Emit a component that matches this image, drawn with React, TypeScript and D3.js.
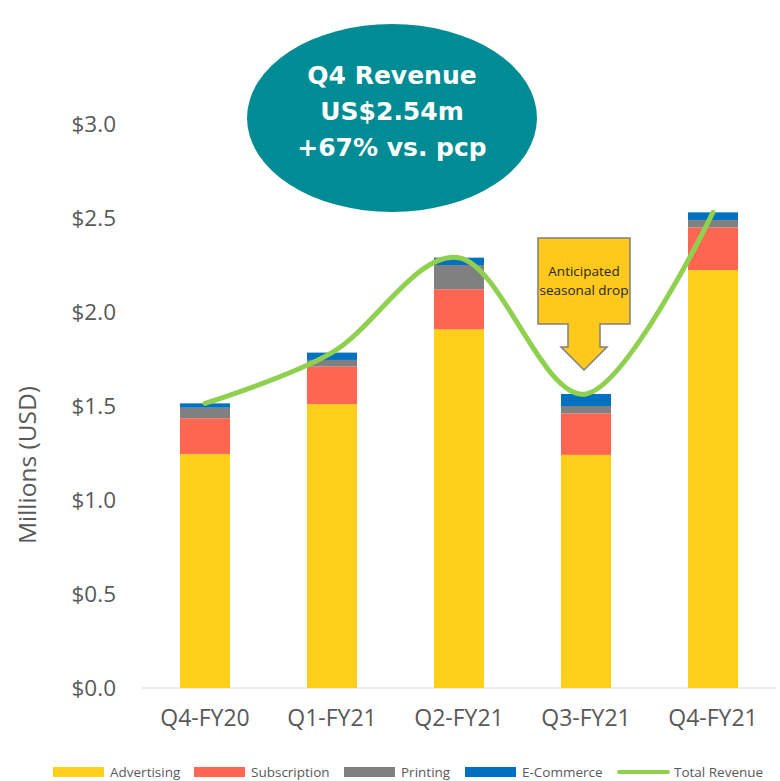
import React, { useRef, useEffect } from "react";
import * as d3 from "d3";

// quarters on the x axis
const quarters = ["Q4-FY20", "Q1-FY21", "Q2-FY21", "Q3-FY21", "Q4-FY21"];

// revenue by stream, millions USD
const advertising = [1.245, 1.51, 1.908, 1.24, 2.223];
const subscription = [0.19, 0.2, 0.213, 0.221, 0.227];
const printing = [0.056, 0.035, 0.129, 0.039, 0.039];
const ecommerce = [0.023, 0.039, 0.039, 0.064, 0.041];
const totalRevenue = [1.514, 1.784, 2.289, 1.564, 2.53];

const yTicks = [0, 0.5, 1.0, 1.5, 2.0, 2.5, 3.0];

const seriesNames = ["Advertising", "Subscription", "Printing", "E-Commerce"];
const seriesColors = ["#FFCF1A", "#FF6652", "#808080", "#0070C0"];
const lineColor = "#8FD14F";

const App = () => {
    const ref = useRef<SVGSVGElement>(null);

    useEffect(() => {
        const width = 780;
        const height = 781;
        const margin = { top: 124, right: 3.5, bottom: 93, left: 141.5 };
        const font = "'Open Sans', sans-serif";
        const textColor = "#595959";

        const svg = d3.select(ref.current)
            .attr("width", width)
            .attr("height", height);

        svg.selectAll("*").remove();

        const xScale = d3.scaleBand()
            .domain(quarters)
            .range([margin.left, width - margin.right])
            .paddingInner(0.606)
            .paddingOuter(0.303);

        const yScale = d3.scaleLinear()
            .domain([0, 3])
            .range([height - margin.bottom, margin.top]);

        // stack the four streams
        const rows = quarters.map((q, i) => ({
            quarter: q,
            Advertising: advertising[i],
            Subscription: subscription[i],
            Printing: printing[i],
            "E-Commerce": ecommerce[i],
        }));
        const stacked = d3.stack<any>().keys(seriesNames)(rows);

        // baseline
        svg.append("line")
            .attr("x1", margin.left)
            .attr("x2", width - margin.right)
            .attr("y1", yScale(0))
            .attr("y2", yScale(0))
            .attr("stroke", "#D9D9D9")
            .attr("stroke-width", 1);

        stacked.forEach((layer, k) => {
            svg.append("g")
                .selectAll("rect")
                .data(layer)
                .enter()
                .append("rect")
                .attr("x", (d: any) => xScale(d.data.quarter)!)
                .attr("y", d => yScale(d[1]))
                .attr("height", d => yScale(d[0]) - yScale(d[1]))
                .attr("width", xScale.bandwidth())
                .attr("fill", seriesColors[k]);
        });

        // y axis labels
        svg.append("g")
            .selectAll("text")
            .data(yTicks)
            .enter()
            .append("text")
            .attr("x", 116)
            .attr("y", d => yScale(d))
            .attr("dy", "0.35em")
            .attr("text-anchor", "end")
            .style("font-family", font)
            .style("font-size", "22.5px")
            .style("fill", textColor)
            .text(d => "$" + d3.format(".1f")(d));

        // x axis labels
        svg.append("g")
            .selectAll("text")
            .data(quarters)
            .enter()
            .append("text")
            .attr("x", d => xScale(d)! + xScale.bandwidth() / 2)
            .attr("y", 726)
            .attr("text-anchor", "middle")
            .style("font-family", font)
            .style("font-size", "23px")
            .style("fill", textColor)
            .text(d => d);

        // axis title
        svg.append("text")
            .attr("transform", `translate(36, 465) rotate(-90)`)
            .attr("text-anchor", "middle")
            .style("font-family", font)
            .style("font-size", "24.5px")
            .style("fill", textColor)
            .text("Millions (USD)");

        // total revenue line (smoothed like the spreadsheet one)
        const line = d3.line<number>()
            .x((d, i) => xScale(quarters[i])! + xScale.bandwidth() / 2)
            .y(d => yScale(d))
            .curve(d3.curveCardinal.tension(0));

        svg.append("path")
            .datum(totalRevenue)
            .attr("d", line)
            .attr("fill", "none")
            .attr("stroke", lineColor)
            .attr("stroke-width", 5)
            .attr("stroke-linecap", "round");

        // callout arrow over the Q3 dip
        const cx = xScale("Q3-FY21")! + xScale.bandwidth() / 2 - 2;
        const calloutPath = [
            [cx - 46, 238], [cx + 46, 238], [cx + 46, 324], [cx + 16, 324],
            [cx + 16, 347], [cx + 23, 347], [cx, 370], [cx - 23, 347],
            [cx - 16, 347], [cx - 16, 324], [cx - 46, 324],
        ];
        svg.append("path")
            .attr("d", "M" + calloutPath.map(p => p.join(",")).join("L") + "Z")
            .attr("fill", "#FFC91C")
            .attr("stroke", "#7F7F7F")
            .attr("stroke-width", 1.5);

        // two separate lines so they don't crowd each other
        const calloutLines = ["Anticipated", "seasonal drop"];
        svg.append("g")
            .selectAll("text")
            .data(calloutLines)
            .enter()
            .append("text")
            .attr("x", cx)
            .attr("y", (d, i) => 276 + i * 19)
            .attr("text-anchor", "middle")
            .style("font-family", font)
            .style("font-size", "13.5px")
            .style("fill", "#262626")
            .text(d => d);

        // headline bubble
        svg.append("ellipse")
            .attr("cx", 392)
            .attr("cy", 118)
            .attr("rx", 145)
            .attr("ry", 94)
            .attr("fill", "#008C94");

        const headline = ["Q4 Revenue", "US$2.54m", "+67% vs. pcp"];
        svg.append("g")
            .selectAll("text")
            .data(headline)
            .enter()
            .append("text")
            .attr("x", 392)
            .attr("y", (d, i) => 84 + i * 36)
            .attr("text-anchor", "middle")
            .style("font-family", "'DejaVu Sans', sans-serif")
            .style("font-weight", "bold")
            .style("font-size", "25px")
            .style("fill", "white")
            .text(d => d);

        // legend
        const legendItems = [
            { name: "Advertising", color: seriesColors[0], x: 53, type: "rect" },
            { name: "Subscription", color: seriesColors[1], x: 194, type: "rect" },
            { name: "Printing", color: seriesColors[2], x: 344, type: "rect" },
            { name: "E-Commerce", color: seriesColors[3], x: 465, type: "rect" },
            { name: "Total Revenue", color: lineColor, x: 617, type: "line" },
        ];
        const legend = svg.append("g");
        legendItems.forEach(item => {
            if (item.type === "rect") {
                legend.append("rect")
                    .attr("x", item.x)
                    .attr("y", 767)
                    .attr("width", 51)
                    .attr("height", 10)
                    .attr("fill", item.color);
            } else {
                legend.append("line")
                    .attr("x1", item.x + 2)
                    .attr("x2", item.x + 51)
                    .attr("y1", 772)
                    .attr("y2", 772)
                    .attr("stroke", item.color)
                    .attr("stroke-width", 4)
                    .attr("stroke-linecap", "round");
            }
            legend.append("text")
                .attr("x", item.x + 57)
                .attr("y", 777)
                .style("font-family", font)
                .style("font-size", "13.5px")
                .style("fill", textColor)
                .text(item.name);
        });
    }, []);

    return (
        <div style={{ position: "absolute", left: 0, top: 0 }}>
            <svg ref={ref}></svg>
        </div>
    );
};

export default App;
